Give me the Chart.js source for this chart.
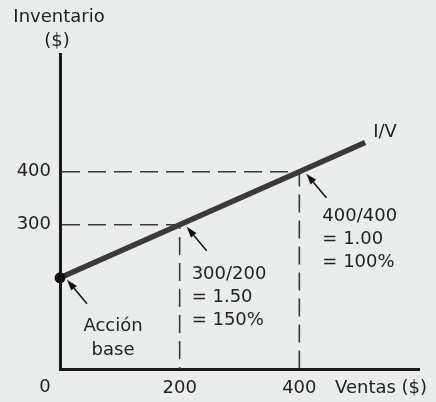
<!DOCTYPE html>
<html lang="es">
<head>
<meta charset="utf-8">
<title>Inventario / Ventas</title>
<script src="https://cdn.jsdelivr.net/npm/chart.js@4.4.1/dist/chart.umd.min.js"></script>
<style>
  html, body { margin:0; padding:0; background:#ebeded; }
  #wrap { width:436px; height:402px; }
</style>
</head>
<body>
<div id="wrap"><canvas id="ivChart" width="436" height="402"></canvas></div>
<script>
// I/V line: inventario against ventas
const ventas = [0, 200, 400, 510];
const inventario = [200, 300, 400, 455];
// points marked on the line (dashed guides)
const markVentas = [200, 400];
const markInv = [300, 400];
// tick labels
const xTicks = [200, 400];
const yTicks = [300, 400];
const notes = [
    ['Acción', 'base'],
    ['300/200', '= 1.50', '= 150%'],
    ['400/400', '= 1.00', '= 100%']
];
const X_MIN = 0, X_MAX = 600, Y_MIN = 28, Y_MAX = 622;

const FONT = '18px "DejaVu Sans", sans-serif';
const INK = '#222';

// guides from the y axis to the point and down to the x axis
const guides = markVentas.map((v, i) => ({
    data: [{x: X_MIN, y: markInv[i]}, {x: v, y: markInv[i]}, {x: v, y: Y_MIN}],
    borderColor: '#3a3a3a', borderWidth: 1.6, borderDash: [18, 8], borderDashOffset: -2,
    pointRadius: 0, fill: false, clip: false
}));

function arrow(ctx, ax, ay){
    // small arrow pointing up-left at (ax, ay)
    const tx = ax + 7, ty = ay + 2, sx = ax + 27, sy = ay + 26;
    const ang = Math.atan2(ty - sy, tx - sx);
    const len = 11, half = 3.6;
    const bx = tx - len * Math.cos(ang), by = ty - len * Math.sin(ang);
    ctx.beginPath();
    ctx.moveTo(sx, sy); ctx.lineTo(bx, by);
    ctx.lineWidth = 1.5; ctx.strokeStyle = '#111'; ctx.stroke();
    ctx.beginPath();
    ctx.moveTo(tx, ty);
    ctx.lineTo(bx + half * Math.sin(ang), by - half * Math.cos(ang));
    ctx.lineTo(bx - half * Math.sin(ang), by + half * Math.cos(ang));
    ctx.closePath(); ctx.fillStyle = '#111'; ctx.fill();
}

const notesPlugin = {
    id: 'notes',
    afterDraw(chart){
        const {ctx, scales: {x, y}} = chart;
        const x0 = x.getPixelForValue(0);
        ctx.save();
        ctx.font = FONT;
        ctx.fillStyle = INK;
        ctx.textBaseline = 'middle';

        // axis captions
        ctx.textAlign = 'center';
        ctx.fillText('Inventario', x0 - 1, 17);
        ctx.fillText('($)', x0 - 3, 41);
        ctx.fillText('0', x0 - 15, y.bottom + 18);
        ctx.textAlign = 'left';
        ctx.fillText('Ventas ($)', x.right - 84, y.bottom + 19);

        // I/V label at end of line
        const n = ventas.length - 1;
        ctx.fillText('I/V', x.getPixelForValue(ventas[n]) + 8, y.getPixelForValue(inventario[n]) - 10);

        // base point
        const bx = x.getPixelForValue(ventas[0]), by = y.getPixelForValue(inventario[0]);
        arrow(ctx, bx, by);
        ctx.fillStyle = INK;
        ctx.textAlign = 'center';
        notes[0].forEach((t, k) => ctx.fillText(t, bx + 53, by + 49 + k * 24));

        // ratio notes
        const offs = [[12, 50], [23, 45]];
        ctx.textAlign = 'left';
        markVentas.forEach((v, i) => {
            const px = x.getPixelForValue(v), py = y.getPixelForValue(markInv[i]);
            arrow(ctx, px, py);
            ctx.fillStyle = INK;
            notes[i + 1].forEach((t, k) => ctx.fillText(t, px + offs[i][0], py + offs[i][1] + k * 22.7));
        });
        ctx.restore();
    }
};

new Chart(document.getElementById('ivChart'), {
    type: 'line',
    data: {
        datasets: [{
            data: ventas.map((v, i) => ({x: v, y: inventario[i]})),
            borderColor: '#3a3a3a', borderWidth: 5.5,
            pointRadius: c => c.dataIndex === 0 ? 5.5 : 0,
            pointBackgroundColor: '#111', pointBorderWidth: 0,
            fill: false, clip: false
        }].concat(guides)
    },
    options: {
        responsive: false,
        animation: false,
        events: [],
        layout: { padding: {top: 54, right: 17, left: 0, bottom: 0} },
        plugins: { legend: {display: false}, tooltip: {enabled: false} },
        scales: {
            x: {
                type: 'linear', min: X_MIN, max: X_MAX,
                grid: {display: false, drawTicks: false},
                border: {display: true, width: 3, color: '#1a1a1a'},
                afterBuildTicks: s => { s.ticks = xTicks.map(v => ({value: v})); },
                afterFit: s => { s.height = 33; },
                ticks: {color: INK, font: {family: '"DejaVu Sans", sans-serif', size: 18}, padding: 9, maxRotation: 0}
            },
            y: {
                type: 'linear', min: Y_MIN, max: Y_MAX,
                grid: {display: false, drawTicks: false},
                border: {display: true, width: 3, color: '#1a1a1a'},
                afterBuildTicks: s => { s.ticks = yTicks.map(v => ({value: v})); },
                afterFit: s => { s.width = 60; },
                ticks: {color: INK, font: {family: '"DejaVu Sans", sans-serif', size: 18}, padding: 9}
            }
        }
    },
    plugins: [notesPlugin]
});
</script>
</body>
</html>
